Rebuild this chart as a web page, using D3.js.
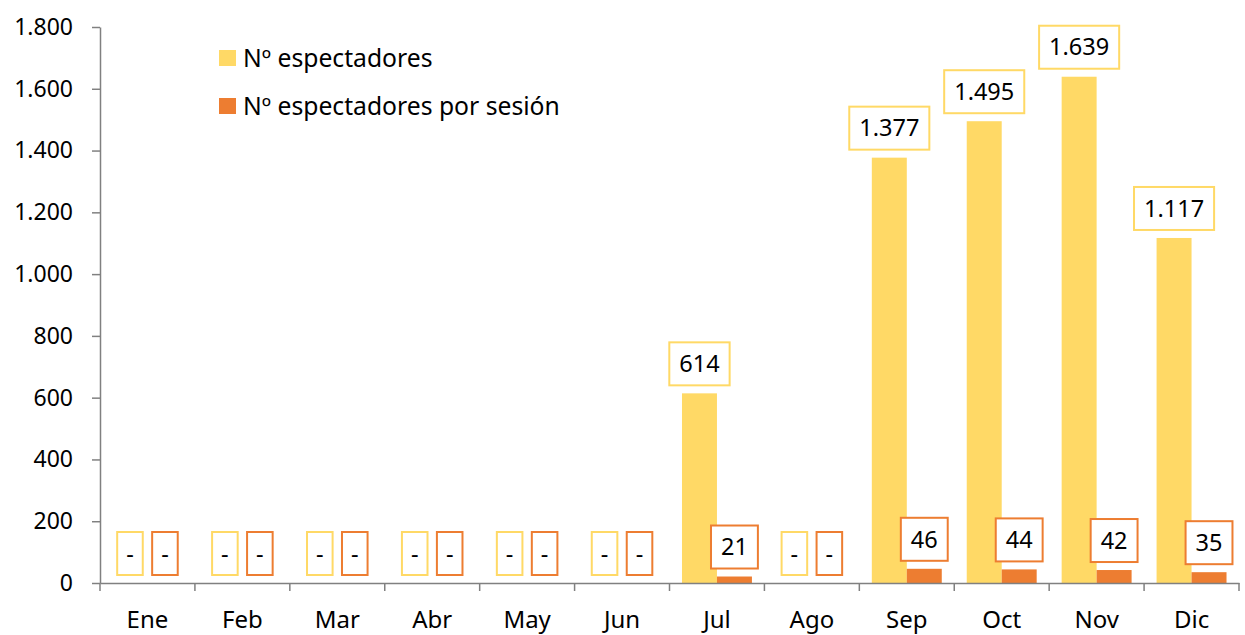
<!DOCTYPE html>
<html>
<head>
<meta charset="utf-8">
<script src="https://cdn.jsdelivr.net/npm/d3@7"></script>
<style>
  body { margin: 0; background: #fff; }
  text { font-family: "Noto Sans", sans-serif; fill: #000; }
</style>
</head>
<body>
<div id="chart"></div>
<script>
// Data
const months = ['Ene', 'Feb', 'Mar', 'Abr', 'May', 'Jun', 'Jul', 'Ago', 'Sep', 'Oct', 'Nov', 'Dic'];
const espectadores = [null, null, null, null, null, null, 614, null, 1377, 1495, 1639, 1117];
const porSesion = [null, null, null, null, null, null, 21, null, 46, 44, 42, 35];
const seriesNames = ['Nº espectadores', 'Nº espectadores por sesión'];
const seriesColors = ['#FFD966', '#ED7D31'];
const yTicks = [0, 200, 400, 600, 800, 1000, 1200, 1400, 1600, 1800];

const svgWidth = 1245;
const svgHeight = 635;
const plotLeft = 100, plotRight = 1239, plotTop = 27, plotBottom = 583;

const svg = d3.select('#chart')
  .append('svg')
  .attr('width', svgWidth)
  .attr('height', svgHeight);

const fmt = d => d3.format(',')(d).replace(/,/g, '.');

// Scales
const x0 = d3.scaleBand().domain(months).range([plotLeft, plotRight]).padding(0);
const x1 = d3.scaleBand().domain([0, 1]).range([0, x0.bandwidth()])
  .paddingInner(0).paddingOuter(0.357);
const y = d3.scaleLinear().domain([0, 1800]).range([plotBottom, plotTop]);

// Bars
const rows = months.map((m, i) => ({ month: m, values: [espectadores[i], porSesion[i]] }));

const groups = svg.selectAll('.grp')
  .data(rows)
  .enter().append('g')
  .attr('class', 'grp')
  .attr('transform', d => `translate(${x0(d.month)},0)`);

groups.selectAll('rect')
  .data(d => d.values.map((v, k) => ({ k, v })))
  .enter().append('rect')
  .attr('x', d => x1(d.k))
  .attr('width', x1.bandwidth())
  .attr('y', d => y(d.v || 0))
  .attr('height', d => y(0) - y(d.v || 0))
  .style('fill', d => seriesColors[d.k]);

// Axes
const axisColor = '#808080';

const yAxis = svg.append('g')
  .attr('transform', `translate(${plotLeft},0)`)
  .call(d3.axisLeft(y).tickValues(yTicks).tickFormat(fmt).tickSize(8).tickSizeOuter(0).tickPadding(19));
yAxis.select('.domain').style('stroke', axisColor).style('stroke-width', 1.5);
yAxis.selectAll('.tick line').style('stroke', axisColor).style('stroke-width', 1.5);
yAxis.selectAll('text').style('font-size', '23px').style('font-family', '"Noto Sans", sans-serif').attr('fill', '#000');

const xAxis = svg.append('g')
  .attr('transform', `translate(0,${plotBottom})`)
  .call(d3.axisBottom(x0).tickSize(0).tickSizeOuter(0).tickPadding(28));
xAxis.select('.domain').style('stroke', axisColor).style('stroke-width', 1.5);
xAxis.selectAll('text').style('font-size', '24px').style('font-family', '"Noto Sans", sans-serif').attr('fill', '#000');

// boundary ticks on x axis
const bounds = months.map(m => x0(m)).concat([x0(months[months.length - 1]) + x0.bandwidth()]);
xAxis.selectAll('.bound')
  .data(bounds)
  .enter().append('line')
  .attr('x1', d => d).attr('x2', d => d)
  .attr('y1', 0).attr('y2', 8)
  .style('stroke', axisColor).style('stroke-width', 1.5);

// Data labels in boxes
const labels = groups.selectAll('.lbl')
  .data(d => d.values.map((v, k) => ({ k, v })))
  .enter().append('g')
  .attr('class', 'lbl');

labels.each(function (d) {
  const g = d3.select(this);
  const cx = x1(d.k) + x1.bandwidth() / 2;
  const boxBottom = y(d.v || 0) - 8;
  const boxH = 43;
  const t = g.append('text')
    .attr('x', cx)
    .attr('y', boxBottom - boxH / 2)
    .attr('dy', '0.35em')
    .attr('text-anchor', 'middle')
    .style('font-size', '23.5px')
    .text(d.v == null ? '-' : fmt(d.v));
  const w = t.node().getComputedTextLength();
  const pad = d.v == null ? 9 : 10;
  g.insert('rect', 'text')
    .attr('x', cx - w / 2 - pad)
    .attr('y', boxBottom - boxH)
    .attr('width', w + pad * 2)
    .attr('height', boxH)
    .style('fill', '#fff')
    .style('stroke', seriesColors[d.k])
    .style('stroke-width', 2);
});

// Legend
const legend = svg.append('g').attr('transform', 'translate(219,50)');
seriesNames.forEach((name, i) => {
  const row = legend.append('g').attr('transform', `translate(0,${i * 48})`);
  row.append('rect')
    .attr('width', 17).attr('height', 16)
    .style('fill', seriesColors[i]);
  row.append('text')
    .attr('x', 24)
    .attr('y', 8)
    .attr('dy', '0.35em')
    .style('font-size', '24.7px')
    .text(name);
});
</script>
</body>
</html>
